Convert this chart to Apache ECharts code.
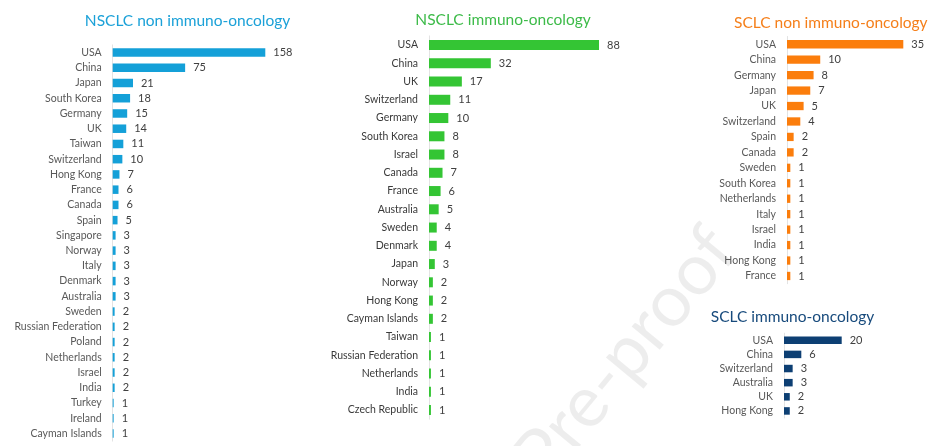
<!DOCTYPE html>
<html>
<head>
<meta charset="utf-8">
<script src="https://cdn.jsdelivr.net/npm/echarts@6/dist/echarts.min.js"></script>
<style>
html,body{margin:0;padding:0;background:#fff;}
#main{width:936px;height:446px;}
</style>
</head>
<body>
<div id="main"></div>
<script>
// Panel 1: NSCLC non immuno-oncology
const nsclcNonIOCountries = ['USA','China','Japan','South Korea','Germany','UK','Taiwan','Switzerland','Hong Kong','France','Canada','Spain','Singapore','Norway','Italy','Denmark','Australia','Sweden','Russian Federation','Poland','Netherlands','Israel','India','Turkey','Ireland','Cayman Islands'];
const nsclcNonIOValues = [158,75,21,18,15,14,11,10,7,6,6,5,3,3,3,3,3,2,2,2,2,2,2,1,1,1];

// Panel 2: NSCLC immuno-oncology
const nsclcIOCountries = ['USA','China','UK','Switzerland','Germany','South Korea','Israel','Canada','France','Australia','Sweden','Denmark','Japan','Norway','Hong Kong','Cayman Islands','Taiwan','Russian Federation','Netherlands','India','Czech Republic'];
const nsclcIOValues = [88,32,17,11,10,8,8,7,6,5,4,4,3,2,2,2,1,1,1,1,1];

// Panel 3: SCLC non immuno-oncology
const sclcNonIOCountries = ['USA','China','Germany','Japan','UK','Switzerland','Spain','Canada','Sweden','South Korea','Netherlands','Italy','Israel','India','Hong Kong','France'];
const sclcNonIOValues = [35,10,8,7,5,4,2,2,1,1,1,1,1,1,1,1];

// Panel 4: SCLC immuno-oncology
const sclcIOCountries = ['USA','China','Switzerland','Australia','UK','Hong Kong'];
const sclcIOValues = [20,6,3,3,2,2];

const titles = ['NSCLC non immuno-oncology','NSCLC immuno-oncology','SCLC non immuno-oncology','SCLC immuno-oncology'];

const FONT = 'Lato, "Open Sans", sans-serif';
const panels = [
  {cats: nsclcNonIOCountries, vals: nsclcNonIOValues, color:'#14a0d8', tcolor:'#1ba1d8', grid:{left:112.7, top:44.9, width:152.6, height:396.2}, max:158, bw:8.5, title:[187.5,20.7], lc:'#595959'},
  {cats: nsclcIOCountries, vals: nsclcIOValues, color:'#34c534', tcolor:'#3dbb49', grid:{left:429, top:35.9, width:170, height:383.3}, max:88, bw:10, title:[503,20], lc:'#3a3a3a'},
  {cats: sclcNonIOCountries, vals: sclcNonIOValues, color:'#fb7d0c', tcolor:'#f57f1a', grid:{left:787, top:36.5, width:116.3, height:247.2}, max:35, bw:8.3, title:[830.8,23.3], lc:'#595959'},
  {cats: sclcIOCountries, vals: sclcIOValues, color:'#0d3f73', tcolor:'#174a7c', grid:{left:784, top:333.2, width:57.7, height:84.8}, max:20, bw:7.5, title:[792.5,316.7], lc:'#595959'}
];

const option = {
  animation:false,
  backgroundColor:'#ffffff',
  grid: panels.map(p => Object.assign({containLabel:false}, p.grid)),
  xAxis: panels.map((p,i) => ({type:'value', gridIndex:i, min:0, max:p.max, show:false})),
  yAxis: panels.map((p,i) => ({
    type:'category', gridIndex:i, data:p.cats, inverse:true,
    axisLine:{show:true, lineStyle:{color:'#e3e3e3', width:1}},
    axisTick:{show:false},
    axisLabel:{interval:0, margin:11, fontFamily:FONT, fontSize:10.5, color:p.lc}
  })),
  series: panels.map((p,i) => ({
    type:'bar', xAxisIndex:i, yAxisIndex:i, data:p.vals, barWidth:p.bw,
    itemStyle:{color:p.color},
    label:{show:true, position:'right', distance:8, fontFamily:FONT, fontSize:11, color:'#404040'}
  })),
  graphic: panels.map((p,i) => ({
    type:'text', x:p.title[0], y:p.title[1],
    style:{text:titles[i], fill:p.tcolor, font:'15.5px '+FONT, textAlign:'center', textVerticalAlign:'middle'}
  })).concat([{
    type:'text', x:722, y:238, rotation:0.88, z:-10,
    style:{text:'Journal Pre-proof', fill:'rgba(0,0,0,0.07)', font:'72px '+FONT, textAlign:'right', textVerticalAlign:'middle'}
  }])
};
echarts.init(document.getElementById('main')).setOption(option);
</script>
</body>
</html>
